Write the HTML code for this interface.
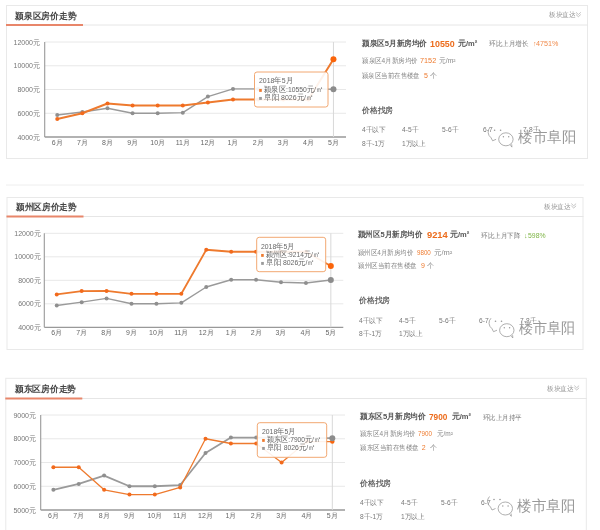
<!DOCTYPE html>
<html><head><meta charset="utf-8"><style>
html,body{margin:0;padding:0;width:600px;height:530px;overflow:hidden;background:#fff;}
body{position:relative;font-family:"Liberation Sans",sans-serif;color:#666;}
svg{position:absolute;left:0;top:0;}
.t{position:absolute;white-space:nowrap;line-height:1;transform-origin:0 50%;}
.ttl{font-size:9px;font-weight:bold;color:#444;}
.hdr{font-size:7px;color:#999;}
.yl{font-size:7px;color:#777;}
.xl{font-size:7px;color:#666;}
.tip{font-size:7.5px;color:#666;}
.sq{font-size:6px;}
.i1{font-size:8px;font-weight:bold;color:#555;}
.big{font-size:9.5px;font-weight:bold;color:#ec6c1c;}
.i1u{font-size:7.5px;font-weight:bold;color:#555;}
.cmp{font-size:7px;color:#777;}
.up{font-size:7px;color:#f08a4b;}
.dn{font-size:7px;color:#7cb342;}
.i2{font-size:7px;color:#888;}
.o2{font-size:7px;color:#ee7a2e;}
.ft{font-size:7.5px;font-weight:bold;color:#666;}
.fl{font-size:7px;color:#777;transform:scaleX(0.95);}
.wm{font-size:14.5px;color:#999;text-shadow:1px 1px 0 rgba(255,255,255,0.9),-1px -1px 0 rgba(255,255,255,0.6);}
</style></head><body><div id="wrap" style="position:absolute;left:0;top:0;width:600px;height:530px;filter:blur(0.3px);">
<svg width="600" height="530" viewBox="0 0 600 530">
<line x1="6" y1="185" x2="584" y2="185" stroke="#eeeeee" stroke-width="1"/>
<rect x="6.5" y="5.5" width="581" height="153" fill="#fff" stroke="#e9e9e9" stroke-width="1"/><line x1="6" y1="25" x2="588" y2="25" stroke="#e6e6e6" stroke-width="1"/><line x1="6" y1="25" x2="83" y2="25" stroke="#e8866a" stroke-width="2"/><path d="M576,12.3 l2.4,2.2 l2.4,-2.2 M576,14.5 l2.4,2.2 l2.4,-2.2" fill="none" stroke="#aaa" stroke-width="0.7"/><line x1="44.7" y1="42" x2="346" y2="42" stroke="#e8e8e8" stroke-width="1"/><line x1="44.7" y1="65.75" x2="346" y2="65.75" stroke="#e8e8e8" stroke-width="1"/><line x1="44.7" y1="89.5" x2="346" y2="89.5" stroke="#e8e8e8" stroke-width="1"/><line x1="44.7" y1="113.25" x2="346" y2="113.25" stroke="#e8e8e8" stroke-width="1"/><line x1="44.7" y1="42" x2="44.7" y2="137" stroke="#999" stroke-width="1.1"/><line x1="44.7" y1="137" x2="346" y2="137" stroke="#999" stroke-width="1.3"/><line x1="333.45" y1="42" x2="333.45" y2="137" stroke="#d8d8d8" stroke-width="1"/><polyline points="57.25,115.03 82.36,112.06 107.47,108.26 132.58,113.25 157.69,113.25 182.8,112.66 207.9,96.62 233.01,88.91 258.12,88.91 283.23,88.91 308.34,88.91 333.45,89.19" fill="none" stroke="#9a9a9a" stroke-width="1.4" stroke-linejoin="round"/><circle cx="57.25" cy="115.03" r="2" fill="#8f8f8f"/><circle cx="82.36" cy="112.06" r="2" fill="#8f8f8f"/><circle cx="107.47" cy="108.26" r="2" fill="#8f8f8f"/><circle cx="132.58" cy="113.25" r="2" fill="#8f8f8f"/><circle cx="157.69" cy="113.25" r="2" fill="#8f8f8f"/><circle cx="182.8" cy="112.66" r="2" fill="#8f8f8f"/><circle cx="207.9" cy="96.62" r="2" fill="#8f8f8f"/><circle cx="233.01" cy="88.91" r="2" fill="#8f8f8f"/><circle cx="258.12" cy="88.91" r="2" fill="#8f8f8f"/><circle cx="283.23" cy="88.91" r="2" fill="#8f8f8f"/><circle cx="308.34" cy="88.91" r="2" fill="#8f8f8f"/><polyline points="57.25,118.95 82.36,113.25 107.47,103.51 132.58,105.53 157.69,105.53 182.8,105.53 207.9,102.56 233.01,99.57 258.12,99.57 283.23,99.57 308.34,99.57 333.45,59.22" fill="none" stroke="#ee7a2e" stroke-width="2" stroke-linejoin="round"/><circle cx="57.25" cy="118.95" r="2" fill="#f26a1c"/><circle cx="82.36" cy="113.25" r="2" fill="#f26a1c"/><circle cx="107.47" cy="103.51" r="2" fill="#f26a1c"/><circle cx="132.58" cy="105.53" r="2" fill="#f26a1c"/><circle cx="157.69" cy="105.53" r="2" fill="#f26a1c"/><circle cx="182.8" cy="105.53" r="2" fill="#f26a1c"/><circle cx="207.9" cy="102.56" r="2" fill="#f26a1c"/><circle cx="233.01" cy="99.57" r="2" fill="#f26a1c"/><circle cx="258.12" cy="99.57" r="2" fill="#f26a1c"/><circle cx="283.23" cy="99.57" r="2" fill="#f26a1c"/><circle cx="308.34" cy="99.57" r="2" fill="#f26a1c"/><circle cx="333.45" cy="89.19" r="3" fill="#8c8c8c"/><circle cx="333.45" cy="59.22" r="3" fill="#fa640a"/><rect x="254.5" y="72" width="73.5" height="35" rx="2.5" fill="rgba(255,255,255,0.9)" stroke="#f2a872" stroke-width="1"/><rect x="7" y="197.5" width="576" height="152" fill="#fff" stroke="#e9e9e9" stroke-width="1"/><line x1="6.5" y1="216.5" x2="583.5" y2="216.5" stroke="#e6e6e6" stroke-width="1"/><line x1="6.5" y1="216.5" x2="83.5" y2="216.5" stroke="#e8866a" stroke-width="2"/><path d="M571.3,203.6 l2.4,2.2 l2.4,-2.2 M571.3,205.8 l2.4,2.2 l2.4,-2.2" fill="none" stroke="#aaa" stroke-width="0.7"/><line x1="44.3" y1="233.3" x2="343.3" y2="233.3" stroke="#e8e8e8" stroke-width="1"/><line x1="44.3" y1="256.8" x2="343.3" y2="256.8" stroke="#e8e8e8" stroke-width="1"/><line x1="44.3" y1="280.3" x2="343.3" y2="280.3" stroke="#e8e8e8" stroke-width="1"/><line x1="44.3" y1="303.8" x2="343.3" y2="303.8" stroke="#e8e8e8" stroke-width="1"/><line x1="44.3" y1="233.3" x2="44.3" y2="327.3" stroke="#999" stroke-width="1.1"/><line x1="44.3" y1="327.3" x2="343.3" y2="327.3" stroke="#999" stroke-width="1.3"/><line x1="330.84" y1="233.3" x2="330.84" y2="327.3" stroke="#d8d8d8" stroke-width="1"/><polyline points="56.76,305.44 81.67,302.16 106.59,298.39 131.51,303.8 156.43,303.8 181.34,302.86 206.26,287 231.18,279.71 256.09,279.71 281.01,282.3 305.93,283 330.84,279.99" fill="none" stroke="#9a9a9a" stroke-width="1.4" stroke-linejoin="round"/><circle cx="56.76" cy="305.44" r="2" fill="#8f8f8f"/><circle cx="81.67" cy="302.16" r="2" fill="#8f8f8f"/><circle cx="106.59" cy="298.39" r="2" fill="#8f8f8f"/><circle cx="131.51" cy="303.8" r="2" fill="#8f8f8f"/><circle cx="156.43" cy="303.8" r="2" fill="#8f8f8f"/><circle cx="181.34" cy="302.86" r="2" fill="#8f8f8f"/><circle cx="206.26" cy="287" r="2" fill="#8f8f8f"/><circle cx="231.18" cy="279.71" r="2" fill="#8f8f8f"/><circle cx="256.09" cy="279.71" r="2" fill="#8f8f8f"/><circle cx="281.01" cy="282.3" r="2" fill="#8f8f8f"/><circle cx="305.93" cy="283" r="2" fill="#8f8f8f"/><polyline points="56.76,294.4 81.67,291.11 106.59,290.88 131.51,293.81 156.43,293.81 181.34,293.81 206.26,249.75 231.18,251.75 256.09,251.75 281.01,251.75 305.93,251.75 330.84,266.04" fill="none" stroke="#ee7a2e" stroke-width="1.8" stroke-linejoin="round"/><circle cx="56.76" cy="294.4" r="2" fill="#f26a1c"/><circle cx="81.67" cy="291.11" r="2" fill="#f26a1c"/><circle cx="106.59" cy="290.88" r="2" fill="#f26a1c"/><circle cx="131.51" cy="293.81" r="2" fill="#f26a1c"/><circle cx="156.43" cy="293.81" r="2" fill="#f26a1c"/><circle cx="181.34" cy="293.81" r="2" fill="#f26a1c"/><circle cx="206.26" cy="249.75" r="2" fill="#f26a1c"/><circle cx="231.18" cy="251.75" r="2" fill="#f26a1c"/><circle cx="256.09" cy="251.75" r="2" fill="#f26a1c"/><circle cx="281.01" cy="251.75" r="2" fill="#f26a1c"/><circle cx="305.93" cy="251.75" r="2" fill="#f26a1c"/><circle cx="330.84" cy="279.99" r="3" fill="#8c8c8c"/><circle cx="330.84" cy="266.04" r="3" fill="#fa640a"/><rect x="256.7" y="237.3" width="69" height="34.4" rx="2.5" fill="rgba(255,255,255,0.9)" stroke="#f2a872" stroke-width="1"/><rect x="5.8" y="378.3" width="580.5" height="166.2" fill="#fff" stroke="#e9e9e9" stroke-width="1"/><line x1="5.3" y1="398.5" x2="586.8" y2="398.5" stroke="#e6e6e6" stroke-width="1"/><line x1="5.3" y1="398.5" x2="82.3" y2="398.5" stroke="#e8866a" stroke-width="2"/><path d="M574.3,385.6 l2.4,2.2 l2.4,-2.2 M574.3,387.8 l2.4,2.2 l2.4,-2.2" fill="none" stroke="#aaa" stroke-width="0.7"/><line x1="40.7" y1="415" x2="345" y2="415" stroke="#e8e8e8" stroke-width="1"/><line x1="40.7" y1="438.75" x2="345" y2="438.75" stroke="#e8e8e8" stroke-width="1"/><line x1="40.7" y1="462.5" x2="345" y2="462.5" stroke="#e8e8e8" stroke-width="1"/><line x1="40.7" y1="486.25" x2="345" y2="486.25" stroke="#e8e8e8" stroke-width="1"/><line x1="40.7" y1="415" x2="40.7" y2="510" stroke="#999" stroke-width="1.1"/><line x1="40.7" y1="510" x2="345" y2="510" stroke="#999" stroke-width="1.3"/><line x1="332.32" y1="415" x2="332.32" y2="510" stroke="#d8d8d8" stroke-width="1"/><polyline points="53.38,489.81 78.74,483.88 104.1,475.56 129.45,486.25 154.81,486.25 180.17,485.06 205.53,453 230.89,437.56 256.25,437.56 281.6,437.56 306.96,438.13 332.32,438.13" fill="none" stroke="#9a9a9a" stroke-width="1.8" stroke-linejoin="round"/><circle cx="53.38" cy="489.81" r="2" fill="#8f8f8f"/><circle cx="78.74" cy="483.88" r="2" fill="#8f8f8f"/><circle cx="104.1" cy="475.56" r="2" fill="#8f8f8f"/><circle cx="129.45" cy="486.25" r="2" fill="#8f8f8f"/><circle cx="154.81" cy="486.25" r="2" fill="#8f8f8f"/><circle cx="180.17" cy="485.06" r="2" fill="#8f8f8f"/><circle cx="205.53" cy="453" r="2" fill="#8f8f8f"/><circle cx="230.89" cy="437.56" r="2" fill="#8f8f8f"/><circle cx="256.25" cy="437.56" r="2" fill="#8f8f8f"/><circle cx="281.6" cy="437.56" r="2" fill="#8f8f8f"/><circle cx="306.96" cy="438.13" r="2" fill="#8f8f8f"/><polyline points="53.38,467.25 78.74,467.25 104.1,489.81 129.45,494.56 154.81,494.56 180.17,487.44 205.53,438.75 230.89,443.5 256.25,443.5 281.6,462.5 306.96,441.6 332.32,441.6" fill="none" stroke="#ee7a2e" stroke-width="1.3" stroke-linejoin="round"/><circle cx="53.38" cy="467.25" r="2" fill="#f26a1c"/><circle cx="78.74" cy="467.25" r="2" fill="#f26a1c"/><circle cx="104.1" cy="489.81" r="2" fill="#f26a1c"/><circle cx="129.45" cy="494.56" r="2" fill="#f26a1c"/><circle cx="154.81" cy="494.56" r="2" fill="#f26a1c"/><circle cx="180.17" cy="487.44" r="2" fill="#f26a1c"/><circle cx="205.53" cy="438.75" r="2" fill="#f26a1c"/><circle cx="230.89" cy="443.5" r="2" fill="#f26a1c"/><circle cx="256.25" cy="443.5" r="2" fill="#f26a1c"/><circle cx="281.6" cy="462.5" r="2" fill="#f26a1c"/><circle cx="306.96" cy="441.6" r="2" fill="#f26a1c"/><circle cx="332.32" cy="441.6" r="2.2" fill="#fa640a"/><circle cx="332.32" cy="438.13" r="3" fill="#8c8c8c"/><rect x="257.3" y="422.7" width="69.4" height="34.6" rx="2.5" fill="rgba(255,255,255,0.9)" stroke="#f2a872" stroke-width="1"/>
</svg>
<div class="t ttl" style="top:11.7px;left:15px;transform:scaleX(0.9762);">颍泉区房价走势</div><div class="t hdr" style="top:11.2px;left:548.7px;transform:scaleX(0.9585);">板块直达</div><div class="t yl" style="top:38.5px;right:560px;">12000元</div><div class="t yl" style="top:62.25px;right:560px;">10000元</div><div class="t yl" style="top:86px;right:560px;">8000元</div><div class="t yl" style="top:109.75px;right:560px;">6000元</div><div class="t yl" style="top:133.5px;right:560px;">4000元</div><div class="t xl" style="top:138.7px;left:57.25px;transform:translateX(-50%);">6月</div><div class="t xl" style="top:138.7px;left:82.36px;transform:translateX(-50%);">7月</div><div class="t xl" style="top:138.7px;left:107.47px;transform:translateX(-50%);">8月</div><div class="t xl" style="top:138.7px;left:132.58px;transform:translateX(-50%);">9月</div><div class="t xl" style="top:138.7px;left:157.69px;transform:translateX(-50%);">10月</div><div class="t xl" style="top:138.7px;left:182.8px;transform:translateX(-50%);">11月</div><div class="t xl" style="top:138.7px;left:207.9px;transform:translateX(-50%);">12月</div><div class="t xl" style="top:138.7px;left:233.01px;transform:translateX(-50%);">1月</div><div class="t xl" style="top:138.7px;left:258.12px;transform:translateX(-50%);">2月</div><div class="t xl" style="top:138.7px;left:283.23px;transform:translateX(-50%);">3月</div><div class="t xl" style="top:138.7px;left:308.34px;transform:translateX(-50%);">4月</div><div class="t xl" style="top:138.7px;left:333.45px;transform:translateX(-50%);">5月</div><div class="t tip" style="top:77.25px;left:258.7px;transform:scaleX(0.9211);">2018年5月</div><div class="t tip" style="top:85.75px;left:258.7px;transform:scaleX(0.9083);"><span class="sq" style="color:#ee7a2e">■</span> 颍泉区:10550元/㎡</div><div class="t tip" style="top:93.75px;left:258.7px;transform:scaleX(0.9282);"><span class="sq" style="color:#9a9a9a">■</span> 阜阳 8026元/㎡</div><div class="t i1" style="top:39.6px;left:361.6px;transform:scaleX(0.9497);">颍泉区5月新房均价</div><div class="t big" style="top:38.85px;left:430px;transform:scaleX(0.9352);">10550</div><div class="t i1u" style="top:39.85px;left:458px;">元/m²</div><div class="t cmp" style="top:39.5px;left:489.2px;transform:scaleX(0.9411);">环比上月增长</div><div class="t up" style="top:39.5px;left:533px;">↑</div><div class="t up" style="top:39.5px;left:535.8px;transform:scaleX(1.0218);">4751%</div><div class="t i2" style="top:56.9px;left:361.6px;transform:scaleX(0.9335);">颍泉区4月新房均价</div><div class="t o2" style="top:56.9px;left:420px;transform:scaleX(1.0387);">7152</div><div class="t i2" style="top:56.9px;left:439px;transform:scaleX(0.9668);">元/m²</div><div class="t i2" style="top:71.5px;left:361.6px;transform:scaleX(0.9193);">颍泉区当前在售楼盘</div><div class="t o2" style="top:71.5px;left:424px;">5</div><div class="t i2" style="top:71.5px;left:430px;">个</div><div class="t ft" style="top:106.95px;left:361.7px;transform:scaleX(0.9713);">价格找房</div><div class="t fl" style="top:126.1px;left:361.7px;">4千以下</div><div class="t fl" style="top:126.1px;left:402px;">4-5千</div><div class="t fl" style="top:126.1px;left:441.7px;">5-6千</div><div class="t fl" style="top:126.1px;left:482.5px;">6-7</div><div class="t fl" style="top:126.1px;left:523px;">7-8千</div><div class="t fl" style="top:139.5px;left:361.7px;">8千-1万</div><div class="t fl" style="top:139.5px;left:402px;">1万以上</div><div class="t wm" style="top:130.05px;left:517.6px;transform:scaleX(0.9670);">楼市阜阳</div><div class="t ttl" style="top:202.8px;left:15.8px;transform:scaleX(0.9586);">颍州区房价走势</div><div class="t hdr" style="top:202.5px;left:544px;transform:scaleX(0.9585);">板块直达</div><div class="t yl" style="top:229.8px;right:559.3px;">12000元</div><div class="t yl" style="top:253.3px;right:559.3px;">10000元</div><div class="t yl" style="top:276.8px;right:559.3px;">8000元</div><div class="t yl" style="top:300.3px;right:559.3px;">6000元</div><div class="t yl" style="top:323.8px;right:559.3px;">4000元</div><div class="t xl" style="top:329px;left:56.76px;transform:translateX(-50%);">6月</div><div class="t xl" style="top:329px;left:81.67px;transform:translateX(-50%);">7月</div><div class="t xl" style="top:329px;left:106.59px;transform:translateX(-50%);">8月</div><div class="t xl" style="top:329px;left:131.51px;transform:translateX(-50%);">9月</div><div class="t xl" style="top:329px;left:156.43px;transform:translateX(-50%);">10月</div><div class="t xl" style="top:329px;left:181.34px;transform:translateX(-50%);">11月</div><div class="t xl" style="top:329px;left:206.26px;transform:translateX(-50%);">12月</div><div class="t xl" style="top:329px;left:231.18px;transform:translateX(-50%);">1月</div><div class="t xl" style="top:329px;left:256.09px;transform:translateX(-50%);">2月</div><div class="t xl" style="top:329px;left:281.01px;transform:translateX(-50%);">3月</div><div class="t xl" style="top:329px;left:305.93px;transform:translateX(-50%);">4月</div><div class="t xl" style="top:329px;left:330.84px;transform:translateX(-50%);">5月</div><div class="t tip" style="top:242.55px;left:260.9px;transform:scaleX(0.9101);">2018年5月</div><div class="t tip" style="top:251.05px;left:260.9px;transform:scaleX(0.8838);"><span class="sq" style="color:#ee7a2e">■</span> 颍州区:9214元/㎡</div><div class="t tip" style="top:259.05px;left:260.9px;transform:scaleX(0.9196);"><span class="sq" style="color:#9a9a9a">■</span> 阜阳 8026元/㎡</div><div class="t i1" style="top:231px;left:358.3px;transform:scaleX(0.9349);">颍州区5月新房均价</div><div class="t big" style="top:230.25px;left:426.7px;transform:scaleX(0.9813);">9214</div><div class="t i1u" style="top:231.25px;left:450px;">元/m²</div><div class="t cmp" style="top:231.5px;left:481px;transform:scaleX(0.9411);">环比上月下降</div><div class="t dn" style="top:231.5px;left:524px;">↓</div><div class="t dn" style="top:231.5px;left:528px;transform:scaleX(0.9800);">598%</div><div class="t i2" style="top:248.8px;left:358.3px;transform:scaleX(0.9217);">颍州区4月新房均价</div><div class="t o2" style="top:248.8px;left:416.7px;transform:scaleX(0.8856);">9800</div><div class="t i2" style="top:248.8px;left:434px;transform:scaleX(1.0695);">元/m²</div><div class="t i2" style="top:261.5px;left:358.3px;transform:scaleX(0.9353);">颍州区当前在售楼盘</div><div class="t o2" style="top:261.5px;left:421px;">9</div><div class="t i2" style="top:261.5px;left:426.7px;">个</div><div class="t ft" style="top:297.25px;left:359px;transform:scaleX(0.9713);">价格找房</div><div class="t fl" style="top:316.7px;left:359px;">4千以下</div><div class="t fl" style="top:316.7px;left:398.75px;">4-5千</div><div class="t fl" style="top:316.7px;left:438.75px;">5-6千</div><div class="t fl" style="top:316.7px;left:479px;">6-7</div><div class="t fl" style="top:316.7px;left:519.6px;">7-8千</div><div class="t fl" style="top:329.7px;left:359px;">8千-1万</div><div class="t fl" style="top:329.7px;left:398.75px;">1万以上</div><div class="t wm" style="top:320.95px;left:518.5px;transform:scaleX(0.9432);">楼市阜阳</div><div class="t ttl" style="top:385px;left:15px;transform:scaleX(0.9714);">颍东区房价走势</div><div class="t hdr" style="top:384.5px;left:547px;transform:scaleX(0.9585);">板块直达</div><div class="t yl" style="top:411.5px;right:564px;">9000元</div><div class="t yl" style="top:435.25px;right:564px;">8000元</div><div class="t yl" style="top:459px;right:564px;">7000元</div><div class="t yl" style="top:482.75px;right:564px;">6000元</div><div class="t yl" style="top:506.5px;right:564px;">5000元</div><div class="t xl" style="top:511.7px;left:53.38px;transform:translateX(-50%);">6月</div><div class="t xl" style="top:511.7px;left:78.74px;transform:translateX(-50%);">7月</div><div class="t xl" style="top:511.7px;left:104.1px;transform:translateX(-50%);">8月</div><div class="t xl" style="top:511.7px;left:129.45px;transform:translateX(-50%);">9月</div><div class="t xl" style="top:511.7px;left:154.81px;transform:translateX(-50%);">10月</div><div class="t xl" style="top:511.7px;left:180.17px;transform:translateX(-50%);">11月</div><div class="t xl" style="top:511.7px;left:205.53px;transform:translateX(-50%);">12月</div><div class="t xl" style="top:511.7px;left:230.89px;transform:translateX(-50%);">1月</div><div class="t xl" style="top:511.7px;left:256.25px;transform:translateX(-50%);">2月</div><div class="t xl" style="top:511.7px;left:281.6px;transform:translateX(-50%);">3月</div><div class="t xl" style="top:511.7px;left:306.96px;transform:translateX(-50%);">4月</div><div class="t xl" style="top:511.7px;left:332.32px;transform:translateX(-50%);">5月</div><div class="t tip" style="top:427.95px;left:261.5px;transform:scaleX(0.9101);">2018年5月</div><div class="t tip" style="top:436.45px;left:261.5px;transform:scaleX(0.8869);"><span class="sq" style="color:#ee7a2e">■</span> 颍东区:7900元/㎡</div><div class="t tip" style="top:444.45px;left:261.5px;transform:scaleX(0.9109);"><span class="sq" style="color:#9a9a9a">■</span> 阜阳 8026元/㎡</div><div class="t i1" style="top:413px;left:360px;transform:scaleX(0.9585);">颍东区5月新房均价</div><div class="t big" style="top:412.25px;left:429px;transform:scaleX(0.8685);">7900</div><div class="t i1u" style="top:413.25px;left:451.7px;">元/m²</div><div class="t cmp" style="top:413.5px;left:483.3px;transform:scaleX(0.9266);">环比上月持平</div><div class="t i2" style="top:429.8px;left:360px;transform:scaleX(0.9268);">颍东区4月新房均价</div><div class="t o2" style="top:429.8px;left:418.3px;transform:scaleX(0.8923);">7900</div><div class="t i2" style="top:429.8px;left:437.3px;transform:scaleX(0.9305);">元/m²</div><div class="t i2" style="top:444.2px;left:360px;transform:scaleX(0.9337);">颍东区当前在售楼盘</div><div class="t o2" style="top:444.2px;left:421.7px;">2</div><div class="t i2" style="top:444.2px;left:430px;">个</div><div class="t ft" style="top:480.25px;left:360.4px;transform:scaleX(0.9713);">价格找房</div><div class="t fl" style="top:498.7px;left:360.4px;">4千以下</div><div class="t fl" style="top:498.7px;left:400.8px;">4-5千</div><div class="t fl" style="top:498.7px;left:440.8px;">5-6千</div><div class="t fl" style="top:498.7px;left:481px;">6-7</div><div class="t fl" style="top:512.9px;left:360.4px;">8千-1万</div><div class="t fl" style="top:512.9px;left:400.8px;">1万以上</div><div class="t wm" style="top:499.25px;left:517px;transform:scaleX(0.9687);">楼市阜阳</div>
<svg width="600" height="530" viewBox="0 0 600 530"><g fill="none" stroke="#9a9a9a" stroke-width="0.8"><path d="M490.1,127.3 A8.5 7.5 0 0 0 491.1,137.8"/><path d="M491.1,137.8 l1.5,3 l3.5,-1.5"/><ellipse cx="505.9" cy="139.3" rx="7.2" ry="6.5" fill="rgba(255,255,255,0.85)"/><path d="M510.4,145.3 l1.5,1.8 l-0.2,-2.8"/></g><g fill="#999"><circle cx="494.6" cy="130.3" r="0.8"/><circle cx="500.6" cy="130.3" r="0.8"/><circle cx="503.4" cy="136.8" r="0.7"/><circle cx="508.7" cy="136.8" r="0.7"/></g><g fill="none" stroke="#9a9a9a" stroke-width="0.8"><path d="M491,318.2 A8.5 7.5 0 0 0 492,328.7"/><path d="M492,328.7 l1.5,3 l3.5,-1.5"/><ellipse cx="506.8" cy="330.2" rx="7.2" ry="6.5" fill="rgba(255,255,255,0.85)"/><path d="M511.3,336.2 l1.5,1.8 l-0.2,-2.8"/></g><g fill="#999"><circle cx="495.5" cy="321.2" r="0.8"/><circle cx="501.5" cy="321.2" r="0.8"/><circle cx="504.3" cy="327.7" r="0.7"/><circle cx="509.6" cy="327.7" r="0.7"/></g><g fill="none" stroke="#9a9a9a" stroke-width="0.8"><path d="M489.5,496.5 A8.5 7.5 0 0 0 490.5,507"/><path d="M490.5,507 l1.5,3 l3.5,-1.5"/><ellipse cx="505.3" cy="508.5" rx="7.2" ry="6.5" fill="rgba(255,255,255,0.85)"/><path d="M509.8,514.5 l1.5,1.8 l-0.2,-2.8"/></g><g fill="#999"><circle cx="494" cy="499.5" r="0.8"/><circle cx="500" cy="499.5" r="0.8"/><circle cx="502.8" cy="506" r="0.7"/><circle cx="508.1" cy="506" r="0.7"/></g></svg>
</div></body></html>
